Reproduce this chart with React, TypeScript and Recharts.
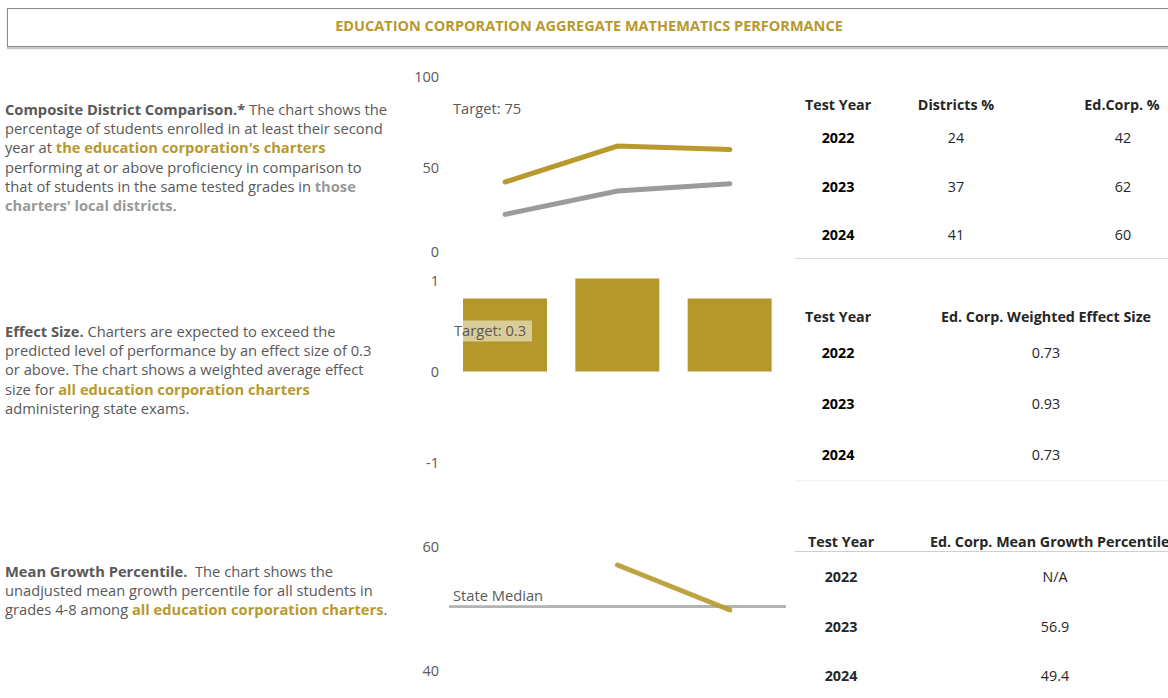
import React from "react";
import {
  ComposedChart,
  Line,
  Bar,
  XAxis,
  YAxis,
  ReferenceLine,
} from "recharts";

const years = ["2022", "2023", "2024"];
const districtsPct = [24, 37, 41];
const edCorpPct = [42, 62, 60];
const effectSize = [0.73, 0.93, 0.73];
const growthPct: (number | null)[] = [null, 56.9, 49.4];

const proficiencyTarget = 75;
const effectTarget = 0.3;
const stateMedian = 50;

const proficiencyTicks = [0, 50, 100];
const effectTicks = [-1, 0, 1];
const growthTicks = [40, 60];

const GOLD = "#B8992D";
const GREY_LINE = "#9B9B9B";
const TEXT = "#595959";
const DARK = "#262626";
const FONT = "'Open Sans', Lato, sans-serif";
const SIZE = 14.7;
const TABLE_SIZE = 14.3;

const proficiencyData = years.map((y, i) => ({
  year: y,
  districts: districtsPct[i],
  edCorp: edCorpPct[i],
}));
const effectData = years.map((y, i) => ({ year: y, effect: effectSize[i] }));
const growthData = years.map((y, i) => ({ year: y, growth: growthPct[i] }));

// tick labels in the reference sit a little inside the plot ends
const makeTick = (nudge: Record<number, number>) => (p: any) => (
  <text
    x={p.x - 2}
    y={p.y + (nudge[p.payload.value] || 0)}
    dy="0.355em"
    textAnchor="end"
    fill={TEXT}
    fontSize={14.5}
    fontFamily={FONT}
  >
    {p.payload.value}
  </text>
);

function Txt({
  x,
  y,
  children,
  align = "left",
  bold = false,
  color = DARK,
  size = TABLE_SIZE,
}: any) {
  const tx = align === "center" ? "translate(-50%, -50%)" : "translate(0, -50%)";
  return (
    <div
      style={{
        position: "absolute",
        left: x,
        top: y,
        transform: tx,
        whiteSpace: "nowrap",
        fontWeight: bold ? 700 : 400,
        color,
        fontSize: size,
        fontFamily: FONT,
      }}
    >
      {children}
    </div>
  );
}

const gold = (s: string) => (
  <span style={{ color: GOLD, fontWeight: 700 }}>{s}</span>
);

export default function App() {
  const para: React.CSSProperties = {
    position: "absolute",
    left: 5,
    fontFamily: FONT,
    fontSize: SIZE,
    lineHeight: "19.2px",
    color: TEXT,
    whiteSpace: "nowrap",
  };

  return (
    <div
      style={{
        position: "absolute",
        left: 0,
        top: 0,
        width: 1168,
        height: 698,
        background: "#fff",
        overflow: "hidden",
        fontFamily: FONT,
      }}
    >
      {/* title box */}
      <div
        style={{
          position: "absolute",
          left: 7,
          top: 8,
          width: 1180,
          height: 37,
          border: "1px solid #8a8a8a",
          boxShadow: "0 2px 1px #c8c8c8",
        }}
      />
      <Txt x={589} y={25} align="center" bold color={GOLD} size={14.5}>
        EDUCATION CORPORATION AGGREGATE MATHEMATICS PERFORMANCE
      </Txt>

      {/* left descriptions */}
      <div style={{ ...para, top: 100 }}>
        <b>Composite District Comparison.*</b> The chart shows the
        <br />
        percentage of students enrolled in at least their second
        <br />
        year at {gold("the education corporation's charters")}
        <br />
        performing at or above proficiency in comparison to
        <br />
        that of students in the same tested grades in{" "}
        <span style={{ color: "#999", fontWeight: 700 }}>those</span>
        <br />
        <span style={{ color: "#999", fontWeight: 700 }}>
          charters' local districts
        </span>
        .
      </div>
      <div style={{ ...para, top: 322 }}>
        <b>Effect Size.</b> Charters are expected to exceed the
        <br />
        predicted level of performance by an effect size of 0.3
        <br />
        or above. The chart shows a weighted average effect
        <br />
        size for {gold("all education corporation charters")}
        <br />
        administering state exams.
      </div>
      <div style={{ ...para, top: 562 }}>
        <b>Mean Growth Percentile.</b>&nbsp; The chart shows the
        <br />
        unadjusted mean growth percentile for all students in
        <br />
        grades 4-8 among {gold("all education corporation charters")}.
      </div>

      {/* chart 1: proficiency lines */}
      <div style={{ position: "absolute", left: 400, top: 60 }}>
        <ComposedChart
          width={400}
          height={210}
          data={proficiencyData}
          margin={{ top: 17.6, right: 14, bottom: 12.4, left: 0 }}
        >
          <XAxis dataKey="year" scale="band" hide />
          <YAxis
            domain={[0, 100]}
            ticks={proficiencyTicks}
            width={49}
            axisLine={false}
            tickLine={false}
            tick={makeTick({ 0: -6, 100: -1 })}
            tickMargin={2}
          />
          <ReferenceLine
            y={proficiencyTarget}
            stroke="none"
            label={(p: any) => (
              <text
                x={p.viewBox.x + 4}
                y={p.viewBox.y - 9}
                fill={TEXT}
                fontSize={SIZE}
                fontFamily={FONT}
              >
                {`Target: ${proficiencyTarget}`}
              </text>
            )}
          />
          <Line
            dataKey="districts"
            stroke={GREY_LINE}
            strokeWidth={5}
            strokeLinecap="round"
            dot={false}
            isAnimationActive={false}
          />
          <Line
            dataKey="edCorp"
            stroke={GOLD}
            strokeWidth={5}
            strokeLinecap="round"
            dot={false}
            isAnimationActive={false}
          />
        </ComposedChart>
      </div>

      {/* chart 2: effect size bars */}
      <div style={{ position: "absolute", left: 400, top: 260 }}>
        <ComposedChart
          width={400}
          height={230}
          data={effectData}
          margin={{ top: 11.5, right: 14, bottom: 18.5, left: 0 }}
        >
          <XAxis dataKey="year" scale="band" hide />
          <YAxis
            domain={[-1, 1]}
            ticks={effectTicks}
            width={49}
            axisLine={false}
            tickLine={false}
            tick={makeTick({ 1: 9, "-1": -9 })}
            tickMargin={2}
          />
          <Bar
            dataKey="effect"
            fill="#B5982C"
            barSize={84}
            isAnimationActive={false}
          />
          <ReferenceLine
            y={effectTarget}
            stroke="none"
            label={(p: any) => (
              <g>
                <rect
                  x={p.viewBox.x + 4}
                  y={p.viewBox.y - 21}
                  width={79}
                  height={21}
                  fill="#fff"
                  fillOpacity={0.5}
                />
                <text
                  x={p.viewBox.x + 5}
                  y={p.viewBox.y - 5.5}
                  fill={TEXT}
                  fontSize={SIZE}
                  fontFamily={FONT}
                >
                  {`Target: ${effectTarget}`}
                </text>
              </g>
            )}
          />
        </ComposedChart>
      </div>

      {/* chart 3: mean growth percentile */}
      <div style={{ position: "absolute", left: 400, top: 520 }}>
        <ComposedChart
          width={400}
          height={178}
          data={growthData}
          margin={{ top: 26.4, right: 14, bottom: 31.6, left: 0 }}
        >
          <XAxis dataKey="year" scale="band" hide />
          <YAxis
            domain={[40, 60]}
            ticks={growthTicks}
            width={49}
            axisLine={false}
            tickLine={false}
            tick={makeTick({ 40: 4 })}
            tickMargin={2}
          />
          <ReferenceLine
            y={stateMedian}
            stroke="#B3B3B3"
            strokeWidth={3}
            label={(p: any) => (
              <g>
                <rect
                  x={p.viewBox.x}
                  y={p.viewBox.y - 20}
                  width={100}
                  height={19}
                  fill="#fff"
                  fillOpacity={0.5}
                />
                <text
                  x={p.viewBox.x + 4}
                  y={p.viewBox.y - 5}
                  fill={TEXT}
                  fontSize={SIZE}
                  fontFamily={FONT}
                >
                  State Median
                </text>
              </g>
            )}
          />
          <Line
            dataKey="growth"
            stroke={GOLD}
            strokeOpacity={0.9}
            strokeWidth={5}
            strokeLinecap="round"
            dot={false}
            connectNulls={false}
            isAnimationActive={false}
          />
        </ComposedChart>
      </div>

      {/* table 1 */}
      <Txt x={805} y={104} bold>Test Year</Txt>
      <Txt x={956} y={104} align="center" bold>Districts %</Txt>
      <Txt x={1122} y={104} align="center" bold>Ed.Corp. %</Txt>
      {years.map((y, i) => (
        <React.Fragment key={"t1" + y}>
          <Txt x={838} y={137 + i * 48.5} align="center" bold color="#000">{y}</Txt>
          <Txt x={956} y={137 + i * 48.5} align="center">{districtsPct[i]}</Txt>
          <Txt x={1123} y={137 + i * 48.5} align="center">{edCorpPct[i]}</Txt>
        </React.Fragment>
      ))}
      <div style={{ position: "absolute", left: 795, top: 258, width: 380, height: 1, background: "#d6d6d6" }} />

      {/* table 2 */}
      <Txt x={805} y={316} bold>Test Year</Txt>
      <Txt x={1046} y={316} align="center" bold>Ed. Corp. Weighted Effect Size</Txt>
      {years.map((y, i) => (
        <React.Fragment key={"t2" + y}>
          <Txt x={838} y={352 + i * 51} align="center" bold color="#000">{y}</Txt>
          <Txt x={1046} y={352 + i * 51} align="center">{effectSize[i].toFixed(2)}</Txt>
        </React.Fragment>
      ))}
      <div style={{ position: "absolute", left: 795, top: 480, width: 380, height: 1, background: "#f2f2f2" }} />

      {/* table 3 */}
      <Txt x={808} y={541} bold>Test Year</Txt>
      <Txt x={930} y={541} bold>Ed. Corp. Mean Growth Percentile</Txt>
      <div style={{ position: "absolute", left: 795, top: 551, width: 380, height: 1, background: "#cfcfcf" }} />
      {years.map((y, i) => (
        <React.Fragment key={"t3" + y}>
          <Txt x={841} y={576 + i * 49.5} align="center" bold>{y}</Txt>
          <Txt x={1055} y={576 + i * 49.5} align="center">
            {growthPct[i] == null ? "N/A" : growthPct[i]!.toFixed(1)}
          </Txt>
        </React.Fragment>
      ))}
    </div>
  );
}
